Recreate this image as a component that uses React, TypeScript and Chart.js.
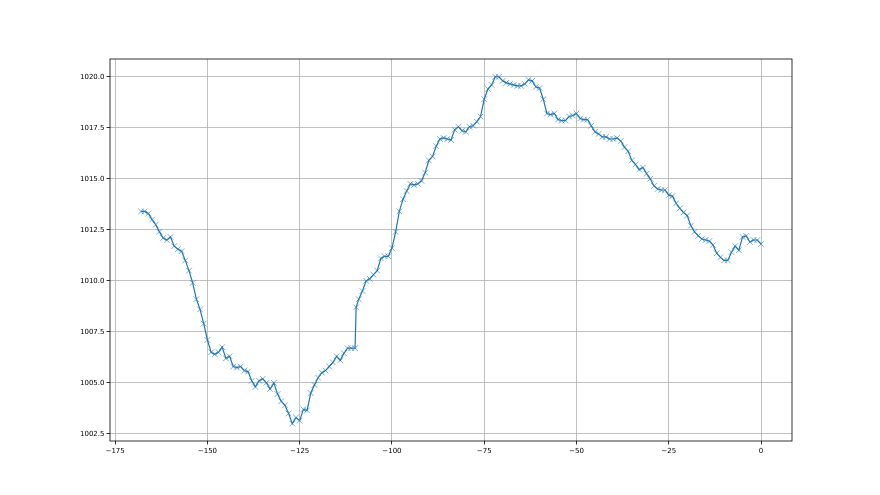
import React, { useEffect, useRef } from "react";
import { Chart, registerables } from "chart.js";

Chart.register(...registerables);

// hours relative to now
const hours: number[] = [
  -168, -167, -166, -165, -164, -163, -162, -161, -160, -159,
  -158, -157, -156, -155, -154, -153, -152, -151, -150, -149,
  -148, -147, -146, -145, -144, -143, -142, -141, -140, -139,
  -138, -137, -136, -135, -134, -133, -132, -131, -130, -129,
  -128, -127, -126, -125, -124, -123, -122, -121, -120, -119,
  -118, -117, -116, -115, -114, -113, -112, -111, -110, -109.7,
  -109, -108, -107, -106, -105, -104, -103, -102, -101, -100,
  -99, -98, -97, -96, -95, -94, -93, -92, -91, -90,
  -89, -88, -87, -86, -85, -84, -83, -82, -81, -80,
  -79, -78, -77, -76, -75, -74, -73, -72, -71, -70,
  -69, -68, -67, -66, -65, -64, -63, -62, -61, -60,
  -59, -58, -57, -56, -55, -54, -53, -52, -51, -50,
  -49, -48, -47, -46, -45, -44, -43, -42, -41, -40,
  -39, -38, -37, -36, -35, -34, -33, -32, -31, -30,
  -29, -28, -27, -26, -25, -24, -23, -22, -21, -20,
  -19, -18, -17, -16, -15, -14, -13, -12, -11, -10,
  -9, -8, -7, -6, -5, -4, -3, -2, -1, 0,
];

// pressure (hPa)
const pressure: number[] = [
  1013.4, 1013.4, 1013.3, 1013.0, 1012.75, 1012.4, 1012.1, 1012.0, 1012.15, 1011.7,
  1011.55, 1011.45, 1011.0, 1010.5, 1009.9, 1009.1, 1008.6, 1007.9, 1007.1, 1006.5,
  1006.4, 1006.5, 1006.75, 1006.2, 1006.3, 1005.8, 1005.75, 1005.8, 1005.6, 1005.55,
  1005.1, 1004.8, 1005.1, 1005.2, 1005.0, 1004.7, 1005.0, 1004.45, 1004.1, 1003.9,
  1003.5, 1003.0, 1003.3, 1003.15, 1003.7, 1003.65, 1004.5, 1004.9, 1005.25, 1005.5,
  1005.6, 1005.8, 1006.0, 1006.3, 1006.1, 1006.45, 1006.7, 1006.7, 1006.7, 1008.7,
  1009.1, 1009.5, 1010.0, 1010.1, 1010.3, 1010.5, 1011.1, 1011.2, 1011.2, 1011.6,
  1012.4, 1013.4, 1014.0, 1014.4, 1014.75, 1014.7, 1014.75, 1014.9, 1015.3, 1015.9,
  1016.1, 1016.6, 1016.95, 1017.0, 1016.95, 1016.9, 1017.4, 1017.55, 1017.35, 1017.3,
  1017.55, 1017.6, 1017.8, 1018.05, 1018.9, 1019.4, 1019.6, 1020.0, 1020.0, 1019.8,
  1019.7, 1019.65, 1019.6, 1019.55, 1019.55, 1019.65, 1019.85, 1019.8, 1019.5, 1019.45,
  1018.9, 1018.2, 1018.15, 1018.2, 1017.9, 1017.85, 1017.85, 1018.05, 1018.1, 1018.2,
  1017.95, 1017.9, 1017.9, 1017.6, 1017.3, 1017.2, 1017.05, 1017.05, 1016.95, 1016.95,
  1017.0, 1016.85, 1016.55, 1016.35, 1015.9, 1015.7, 1015.45, 1015.55, 1015.25, 1015.0,
  1014.65, 1014.5, 1014.45, 1014.45, 1014.2, 1014.15, 1013.8, 1013.55, 1013.35, 1013.2,
  1012.7, 1012.4, 1012.2, 1012.05, 1012.0, 1011.95, 1011.75, 1011.35, 1011.15, 1011.0,
  1011.0, 1011.4, 1011.7, 1011.5, 1012.15, 1012.2, 1011.9, 1012.0, 1012.0, 1011.8,
];

const xTicks: number[] = [-175, -150, -125, -100, -75, -50, -25, 0];
const yTicks: number[] = [1002.5, 1005.0, 1007.5, 1010.0, 1012.5, 1015.0, 1017.5, 1020.0];

const FONT = "'DejaVu Sans', sans-serif";

const framePlugin = {
  id: "frame",
  afterDraw(chart: any) {
    const { ctx, chartArea } = chart;
    ctx.save();
    ctx.strokeStyle = "#000";
    ctx.lineWidth = 0.8;
    ctx.strokeRect(chartArea.left, chartArea.top, chartArea.right - chartArea.left, chartArea.bottom - chartArea.top);
    ctx.restore();
  },
};

export default function App() {
  const ref = useRef<HTMLCanvasElement | null>(null);

  useEffect(() => {
    if (!ref.current) return;
    const data = hours.map((h, i) => ({ x: h, y: pressure[i] }));
    const chart = new Chart(ref.current, {
      type: "scatter",
      data: {
        datasets: [
          {
            data,
            showLine: true,
            borderColor: "#1f77b4",
            borderWidth: 1.2,
            pointStyle: "crossRot",
            pointRadius: 4,
            pointHoverRadius: 4,
            pointBorderColor: "rgba(31,119,180,0.6)",
            pointBackgroundColor: "rgba(31,119,180,0.6)",
            pointBorderWidth: 1,
            tension: 0,
          },
        ],
      },
      plugins: [framePlugin],
      options: {
        responsive: false,
        animation: false,
        layout: { padding: { left: 0, right: 88, top: 59, bottom: 0 } },
        plugins: { legend: { display: false }, tooltip: { enabled: false } },
        scales: {
          x: {
            type: "linear",
            min: -176.4,
            max: 8.4,
            afterBuildTicks: (scale: any) => {
              scale.ticks = xTicks.map((v) => ({ value: v }));
            },
            afterFit: (scale: any) => {
              scale.height = 54;
            },
            border: { display: false },
            grid: {
              color: "#b0b0b0",
              lineWidth: 0.8,
              tickColor: "#000",
              tickLength: 3.5,
            },
            ticks: {
              autoSkip: false,
              maxRotation: 0,
              padding: 2,
              color: "#000",
              font: { family: FONT, size: 7 },
              callback: (v: any) => (Number(v) < 0 ? "\u2212" + Math.abs(Number(v)) : String(v)),
            },
          },
          y: {
            type: "linear",
            min: 1002.15,
            max: 1020.87,
            afterBuildTicks: (scale: any) => {
              scale.ticks = yTicks.map((v) => ({ value: v }));
            },
            afterFit: (scale: any) => {
              scale.width = 110;
            },
            border: { display: false },
            grid: {
              color: "#b0b0b0",
              lineWidth: 0.8,
              tickColor: "#000",
              tickLength: 3.5,
            },
            ticks: {
              autoSkip: false,
              padding: 2,
              color: "#000",
              font: { family: FONT, size: 7 },
              callback: (v: any) => Number(v).toFixed(1),
            },
          },
        },
      },
    });
    return () => chart.destroy();
  }, []);

  return (
    <div style={{ position: "fixed", left: 0, top: 0, width: 880, height: 495, background: "#fff" }}>
      <canvas ref={ref} width={880} height={495} style={{ display: "block", width: 880, height: 495 }} />
    </div>
  );
}
